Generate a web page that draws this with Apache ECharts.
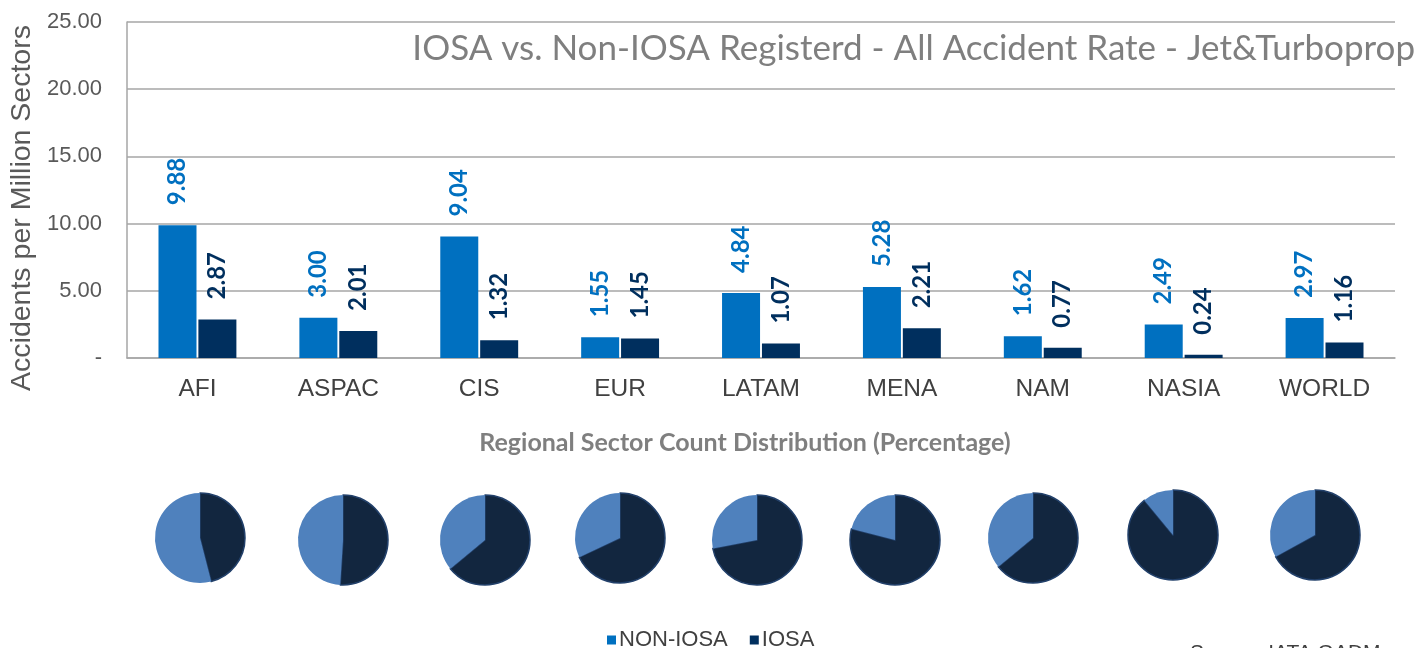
<!DOCTYPE html>
<html>
  <head>
    <meta charset="utf-8" />
    <title>IOSA vs Non-IOSA</title>
    <script src="https://cdn.jsdelivr.net/npm/echarts@6/dist/echarts.min.js"></script>
  </head>
  <body style="margin:0">
    <style>
      html, body { margin: 0; background: #fff; }
      #main { width: 1419px; height: 648px; }
    </style>
    <div id="main"></div>
    <script type="text/javascript">
      // regions and accident rates (per million sectors)
      var regions = ['AFI', 'ASPAC', 'CIS', 'EUR', 'LATAM', 'MENA', 'NAM', 'NASIA', 'WORLD'];
      var nonIosaRate = [9.88, 3.00, 9.04, 1.55, 4.84, 5.28, 1.62, 2.49, 2.97];
      var iosaRate = [2.87, 2.01, 1.32, 1.45, 1.07, 2.21, 0.77, 0.24, 1.16];
      // sector count split (%)
      var pieIosa = [46, 51, 64, 68, 72, 79, 64, 89, 67];
      var pieNonIosa = [54, 49, 36, 32, 28, 21, 36, 11, 33];

      var myChart = echarts.init(document.getElementById('main'));

      var pieCenters = [[200, 538], [343, 540], [485, 540], [620, 538], [757, 540],
                        [895, 540], [1033, 538], [1173, 535], [1315, 535]];

      function barLabel(color) {
        return {
          show: true,
          position: 'top',
          rotate: 90,
          align: 'left',
          verticalAlign: 'middle',
          distance: 20,
          color: color,
          fontFamily: 'Lato',
          fontWeight: 'bold',
          fontSize: 24,
          formatter: function (p) { return p.value.toFixed(2); }
        };
      }

      var seriesData = [
        {
          name: 'NON-IOSA',
          type: 'bar',
          data: nonIosaRate,
          color: '#0070C0',
          barWidth: 38,
          barGap: '5%',
          label: barLabel('#0070C0')
        },
        {
          name: 'IOSA',
          type: 'bar',
          data: iosaRate,
          color: '#002F5E',
          barWidth: 38,
          label: barLabel('#002F5E')
        }
      ];

      regions.forEach(function (r, i) {
        seriesData.push({
          name: r + ' sectors',
          type: 'pie',
          radius: 45,
          center: pieCenters[i],
          startAngle: 90,
          clockwise: true,
          silent: true,
          label: { show: false },
          labelLine: { show: false },
          data: [
            { name: 'IOSA sectors', value: pieIosa[i],
              itemStyle: { color: '#12263F', borderColor: '#22406A', borderWidth: 1.5 } },
            { name: 'NON-IOSA sectors', value: pieNonIosa[i],
              itemStyle: { color: '#4F81BD', borderWidth: 0 } }
          ]
        });
      });

      var option = {
        animation: false,
        title: {
          text: 'IOSA vs. Non-IOSA Registerd - All Accident Rate - Jet&Turboprop',
          right: 4,
          top: 31,
          padding: 0,
          textStyle: { fontFamily: 'Lato', fontSize: 35, fontWeight: 'normal', color: '#7F7F7F' }
        },
        legend: {
          data: ['NON-IOSA', 'IOSA'],
          left: 602,
          top: 624,
          icon: 'rect',
          itemWidth: 9,
          itemHeight: 9,
          itemGap: 22,
          textStyle: { fontFamily: 'Liberation Sans', fontSize: 22, color: '#404040', padding: [0, 0, 0, -2] }
        },
        graphic: [
          {
            type: 'text',
            x: 22,
            y: 208,
            rotation: Math.PI / 2,
            style: {
              text: 'Accidents per Million Sectors',
              align: 'center',
              verticalAlign: 'middle',
              fontFamily: 'Liberation Sans',
              fontSize: 28.5,
              fill: '#595959'
            }
          },
          {
            type: 'text',
            x: 745,
            y: 443,
            style: {
              text: 'Regional Sector Count Distribution (Percentage)',
              align: 'center',
              verticalAlign: 'middle',
              fontFamily: 'Lato',
              fontWeight: 'bold',
              fontSize: 25,
              fill: '#7F7F7F'
            }
          },
          {
            type: 'text',
            x: 1190,
            y: 643,
            style: {
              text: 'Source: IATA GADM',
              fontFamily: 'Liberation Sans',
              fontSize: 21,
              fill: '#404040'
            }
          }
        ],
        grid: {
          left: 127,
          right: 24,
          top: 22,
          bottom: 290,
          containLabel: false
        },
        xAxis: {
          type: 'category',
          data: regions,
          axisLine: { lineStyle: { color: '#A6A6A6', width: 1.5 } },
          axisTick: { show: false },
          axisLabel: {
            margin: 19,
            fontFamily: 'Liberation Sans',
            fontSize: 24.5,
            color: '#404040'
          }
        },
        yAxis: {
          type: 'value',
          min: 0,
          max: 25,
          interval: 5,
          axisLine: { show: true, lineStyle: { color: '#A6A6A6', width: 1.5 } },
          axisTick: { show: false },
          splitLine: { lineStyle: { color: '#A6A6A6', width: 1.5 } },
          axisLabel: {
            margin: 25,
            fontFamily: 'Liberation Sans',
            fontSize: 22,
            color: '#595959',
            formatter: function (v) { return v === 0 ? '-' : v.toFixed(2); }
          }
        },
        series: seriesData
      };

      myChart.setOption(option);
    </script>
  </body>
</html>
